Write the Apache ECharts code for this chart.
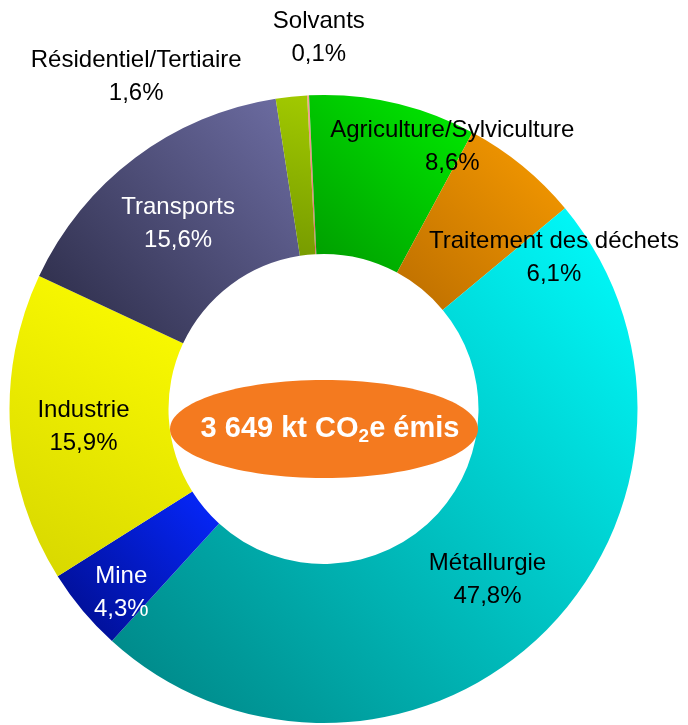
<!DOCTYPE html>
<html>
<head>
<meta charset="utf-8">
<script src="https://cdn.jsdelivr.net/npm/echarts@6/dist/echarts.min.js"></script>
<style>
html,body{margin:0;padding:0;background:#fff;}
#chart{width:688px;height:725px;}
</style>
</head>
<body>
<div id="chart"></div>
<script>
// ---- data ----
const categories = ['Solvants', 'Agriculture/Sylviculture', 'Traitement des déchets', 'Métallurgie', 'Mine', 'Industrie', 'Transports', 'Résidentiel/Tertiaire'];
const shares = [0.1, 8.6, 6.1, 47.8, 4.3, 15.9, 15.6, 1.6];
const totalEmissions = '3 649';
const totalUnitA = ' kt CO';
const totalUnitB = '2';
const totalUnitC = 'e émis';

// ---- styles (not data) ----
const colorStops = {
  'Solvants': ['#F7A09A', '#E07070'],
  'Agriculture/Sylviculture': ['#00EE00', '#009A00'],
  'Traitement des déchets': ['#F99C00', '#BC6E00'],
  'Métallurgie': ['#00FFFF', '#008282'],
  'Mine': ['#0628FF', '#000C88'],
  'Industrie': ['#FFFF00', '#D6D600'],
  'Transports': ['#6E6EA4', '#292944'],
  'Résidentiel/Tertiaire': ['#A2CA00', '#769A00']
};
const labelStyle = {
  'Solvants': { offset: [7, -134] },
  'Agriculture/Sylviculture': { offset: [76, -31] },
  'Traitement des déchets': { offset: [80, 33] },
  'Métallurgie': { offset: [0, -1] },
  'Mine': { offset: [-20, 32], color: '#ffffff' },
  'Industrie': { offset: [-3, 3] },
  'Transports': { offset: [-3, 5], color: '#ffffff' },
  'Résidentiel/Tertiaire': { offset: [-163, -96] }
};

function grad(c) {
  return new echarts.graphic.LinearGradient(1, 0, 0, 1, [
    { offset: 0, color: c[0] }, { offset: 1, color: c[1] }
  ]);
}

const seriesData = categories.map((name, i) => {
  const ls = labelStyle[name] || {};
  return {
    name: name,
    value: shares[i],
    itemStyle: { color: grad(colorStops[name]) },
    label: Object.assign({}, ls.offset ? { offset: ls.offset } : {}, ls.color ? { color: ls.color } : {})
  };
});

const chart = echarts.init(document.getElementById('chart'), null, { renderer: 'canvas' });
chart.setOption({
  animation: false,
  backgroundColor: '#ffffff',
  series: [{
    type: 'pie',
    center: [323.5, 409],
    radius: [155, 314],
    startAngle: 93,
    clockwise: true,
    avoidLabelOverlap: false,
    silent: true,
    label: {
      show: true,
      position: 'inside',
      fontFamily: 'Liberation Sans, Arial, sans-serif',
      fontSize: 24,
      lineHeight: 33,
      color: '#000000',
      align: 'center',
      formatter: p => p.name + '\n' + p.value.toFixed(1).replace('.', ',') + '%'
    },
    labelLine: { show: false },
    itemStyle: { borderWidth: 0 },
    data: seriesData
  }],
  graphic: [{
    type: 'ellipse',
    shape: { cx: 324, cy: 429, rx: 154, ry: 49 },
    style: { fill: '#F47A1F' },
    z: 10
  }, {
    type: 'text',
    x: 330,
    y: 429,
    z: 11,
    style: {
      text: '{a|' + totalEmissions + totalUnitA + '}{b|' + totalUnitB + '}{a|' + totalUnitC + '}',
      align: 'center',
      verticalAlign: 'middle',
      rich: {
        a: { fontFamily: 'Liberation Sans, Arial, sans-serif', fontSize: 29, fontWeight: 'bold', fill: '#ffffff', color: '#ffffff' },
        b: { fontFamily: 'Liberation Sans, Arial, sans-serif', fontSize: 19, fontWeight: 'bold', fill: '#ffffff', color: '#ffffff', padding: [16, 0, 0, 0] }
      }
    }
  }]
});
</script>
</body>
</html>
